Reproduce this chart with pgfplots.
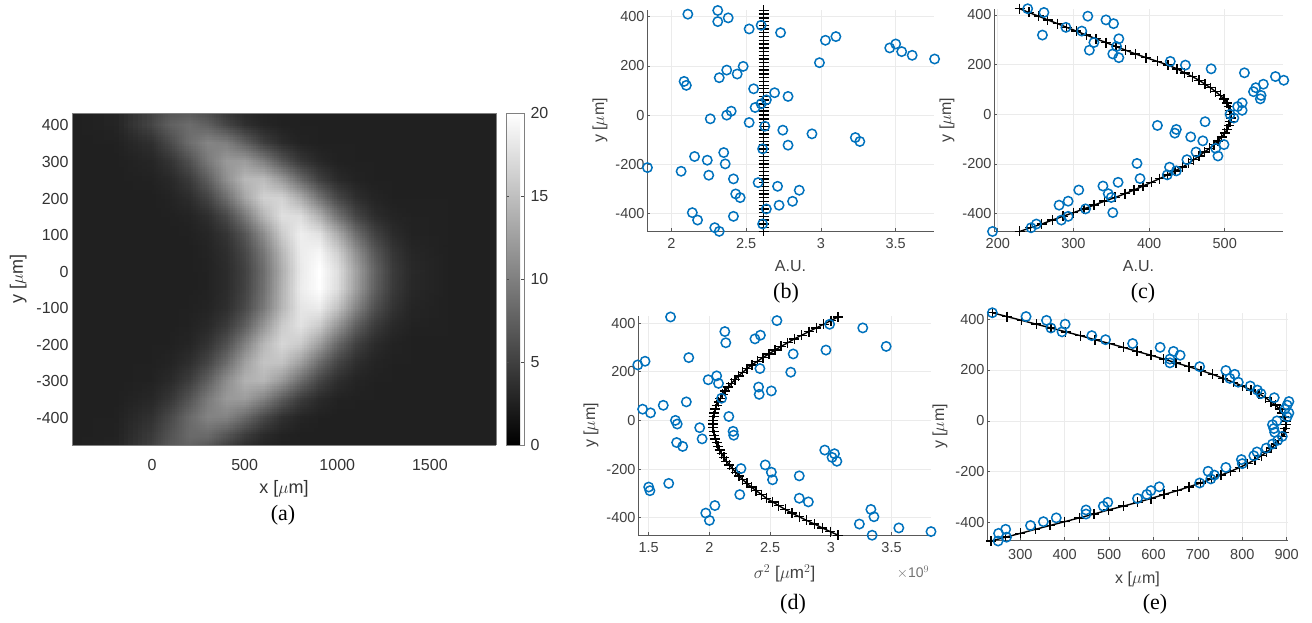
\documentclass[border=0pt]{standalone}
\usepackage{fontspec}
\setmainfont{Liberation Sans}
\newfontfamily\capfont{Liberation Serif}
\usepackage{pgfplots}
\usepackage{pgfplotstable}
\usepgfplotslibrary{patchplots}
\pgfplotsset{compat=1.18}
\definecolor{mblue}{rgb}{0,0.447,0.741}
\definecolor{mtext}{gray}{0.25}
\pgfplotstableread{
y b bf c cf d df e ef
425 2.31 2.617 239.5 229 1.68 3.06 237 237
410 2.11 2.617 261 241 2.556 3.00 313 270
395 2.38 2.617 319 254 2.99 2.94 359 303
380 2.31 2.617 343 266 3.263 2.88 401 336
365 2.60 2.617 353 279 2.127 2.82 369 369
350 2.52 2.617 290 291 2.42 2.76 394 402
335 2.73 2.617 311 304 2.375 2.70 461 435
319 3.10 2.617 259 317 2.135 2.645 492 468
304 3.03 2.617 360 330 3.456 2.59 553 501
289 3.50 2.617 327 343 2.96 2.54 615 532
273 3.46 2.617 357 356 2.69 2.49 645 563
258 3.54 2.617 321 369 1.83 2.44 660 594
243 3.61 2.617 352 382 1.47 2.395 637 623
228 3.76 2.617 360 396 1.41 2.35 637 651
213 2.99 2.617 428 411 2.416 2.31 704 680
198 2.48 2.617 448 425 2.67 2.275 763 707
183 2.37 2.617 482 437 2.06 2.24 783 733
167 2.44 2.617 526 447 1.99 2.21 772 757
152 2.32 2.617 567 457 2.075 2.18 791 780
137 2.085 2.617 578 466 2.405 2.155 818 800
121 2.10 2.617 551 474 2.51 2.13 834 820
107 2.55 2.617 541 481 2.41 2.11 842 838
91 2.69 2.617 538 488 2.10 2.09 872 852
76 2.78 2.617 548 494 1.81 2.075 905 865
62 2.635 2.617 547 499 1.62 2.06 901 875
46 2.60 2.617 523 503 1.45 2.05 896 884
31 2.56 2.617 517 505 1.515 2.04 905 890
16 2.40 2.617 523 507 2.16 2.035 901 895
0 2.37 2.617 507 508 1.72 2.03 878 898
-15 2.26 2.617 512 508 1.735 2.03 868 899
-30 2.52 2.617 474 507 1.92 2.03 871 897
-45 2.625 2.617 411 505 2.195 2.035 873 894
-61 2.745 2.617 436 503 2.20 2.04 890 889
-76 2.94 2.617 434 500 1.94 2.05 880 882
-91 3.23 2.617 455 496 1.73 2.06 868 875
-107 3.26 2.617 471 491 1.78 2.07 854 866
-122 2.78 2.617 499 486 2.95 2.085 833 855
-137 2.61 2.617 488 480 3.03 2.10 826 843
-152 2.35 2.617 462 473 3.01 2.12 798 829
-168 2.155 2.617 491 466 3.05 2.14 800 812
-183 2.24 2.617 450 459 2.46 2.165 763 794
-198 2.36 2.617 384 452 2.26 2.19 723 774
-213 1.84 2.617 427 444 2.51 2.215 737 752
-228 2.065 2.617 436 434 2.74 2.245 729 730
-244 2.25 2.617 424 424 2.52 2.275 704 706
-259 2.415 2.617 388 414 1.665 2.31 613 680
-274 2.58 2.617 359 403 1.50 2.345 594 654
-289 2.71 2.617 339 392 1.51 2.385 585 624
-305 2.855 2.617 307 380 2.25 2.43 564 594
-320 2.43 2.617 346 368 2.74 2.47 497 564
-335 2.46 2.617 350 355 2.815 2.52 487 532
-350 2.81 2.617 293 341 2.045 2.57 448 498
-366 2.72 2.617 281 327 3.33 2.625 448 466
-381 2.635 2.617 316 314 1.97 2.68 381 433
-396 2.14 2.617 352 300 3.355 2.74 352 400
-411 2.415 2.617 293 286 2.0 2.80 323 367
-426 2.175 2.617 284 272 3.235 2.865 267 334
-442 2.61 2.617 251 258 3.56 2.93 251 300
-457 2.29 2.617 244 243 3.825 2.995 269 267
-472 2.32 2.617 193 229 3.34 3.06 250 234
}\ptable
\pgfplotsset{
 small/.style={
  scale only axis, clip=false,
  axis x line*=bottom, axis y line*=left,
  axis line style={draw=black!65,line width=0.8pt},
  tick style={draw=black!65,line width=0.6pt},
  tick align=inside, major tick length=3pt,
  grid=major, grid style={draw=black!8,line width=0.6pt},
  ticklabel style={font=\fontsize{14.5}{16}\selectfont,text=mtext},
  label style={font=\fontsize{16}{18}\selectfont,text=mtext},
  ytick={-400,-200,0,200,400},
  yticklabel style={xshift=1pt},
  xticklabel style={yshift=-4pt},
  xlabel style={yshift=-5pt},
  every axis y label/.style={at={(ticklabel cs:0.5)},rotate=90,anchor=south,font=\fontsize{16}{18}\selectfont,text=mtext,yshift=1pt},
  /pgf/number format/assume math mode=true,
  /pgf/number format/fixed,
  yticklabel={\pgfmathprintnumber[/pgf/number format/1000 sep=]{\tick}},
  scaled x ticks=false,
  xticklabel={\pgfmathprintnumber[/pgf/number format/1000 sep=]{\tick}},
 },
 circ/.style={only marks,mark=o,mark size=4.7pt,mark options={draw=mblue,line width=1.5pt,fill=none}},
 fit/.style={black,line width=1.4pt,mark=+,mark size=5pt,mark options={black,line width=1.4pt}},
}
\begin{document}
\begin{tikzpicture}[x=1pt,y=1pt]
\useasboundingbox (0,0) rectangle (1312,623);
% panel a
\begin{axis}[at={(72pt,178pt)},anchor=south west,scale only axis,width=424pt,height=332pt,
 view={0}{90},xmin=-432,xmax=1857,ymin=-474,ymax=434,
 xtick={0,500,1000,1500},ytick={-400,-300,...,400},
 tick style={draw=none},axis line style={draw=black!50,line width=0.6pt},
 ticklabel style={font=\fontsize{16}{18}\selectfont,text=black!80},
 label style={font=\fontsize{18}{20}\selectfont,text=black!80},
 /pgf/number format/assume math mode=true,
 xticklabel={\pgfmathprintnumber[/pgf/number format/1000 sep=]{\tick}},
 yticklabel={\pgfmathprintnumber[/pgf/number format/1000 sep=]{\tick}},
 xlabel={x [$\mu$m]},ylabel={y [$\mu$m]},
 xticklabel style={yshift=-11pt},
 xlabel style={yshift=-3pt},
 ylabel style={yshift=3pt},
 colormap={bw}{gray(0cm)=(0);gray(1cm)=(1)},
 point meta min=0,point meta max=20,
 colorbar,
 colorbar style={at={(1.0236,1)},anchor=north west,width=18pt,
  ytick={0,5,10,15,20},
  /pgf/number format/assume math mode=true,
  yticklabel={\pgfmathprintnumber{\tick}},
  yticklabel style={font=\fontsize{16}{18}\selectfont,text=black!80,xshift=3pt},
  tick style={draw=black!70},major tick length=3pt,tick align=inside,
  axis line style={draw=black!50,line width=0.6pt},
  yticklabel pos=right}]
\addplot3[surf,shader=interp,patch type=bilinear,mesh/cols=19] coordinates {
(-432,434,2.5)(-200,434,2.9)(0,434,5.3)(100,434,6.7)(200,434,7.0)(300,434,5.9)(400,434,4.3)(500,434,3.2)(600,434,2.7)(700,434,2.5)(800,434,2.5)(900,434,2.5)(1000,434,2.5)(1100,434,2.5)(1200,434,2.5)(1300,434,2.5)(1400,434,2.5)(1600,434,2.5)(1857,434,2.5)
(-432,400,2.5)(-200,400,2.9)(0,400,5.6)(100,400,7.6)(200,400,8.5)(300,400,7.5)(400,400,5.4)(500,400,3.7)(600,400,2.9)(700,400,2.6)(800,400,2.5)(900,400,2.5)(1000,400,2.5)(1100,400,2.5)(1200,400,2.5)(1300,400,2.5)(1400,400,2.5)(1600,400,2.5)(1857,400,2.5)
(-432,350,2.5)(-200,350,2.6)(0,350,3.8)(100,350,5.9)(200,350,8.6)(300,350,10.4)(400,350,9.9)(500,350,7.5)(600,350,4.9)(700,350,3.4)(800,350,2.7)(900,350,2.5)(1000,350,2.5)(1100,350,2.5)(1200,350,2.5)(1300,350,2.5)(1400,350,2.5)(1600,350,2.5)(1857,350,2.5)
(-432,300,2.5)(-200,300,2.5)(0,300,3.0)(100,300,4.1)(200,300,6.3)(300,300,9.5)(400,300,12.0)(500,300,12.2)(600,300,9.9)(700,300,6.7)(800,300,4.3)(900,300,3.1)(1000,300,2.6)(1100,300,2.5)(1200,300,2.5)(1300,300,2.5)(1400,300,2.5)(1600,300,2.5)(1857,300,2.5)
(-432,250,2.5)(-200,250,2.5)(0,250,2.7)(100,250,3.2)(200,250,4.6)(300,250,7.4)(400,250,11.3)(500,250,14.4)(600,250,14.7)(700,250,12.0)(800,250,8.2)(900,250,5.0)(1000,250,3.3)(1100,250,2.7)(1200,250,2.5)(1300,250,2.5)(1400,250,2.5)(1600,250,2.5)(1857,250,2.5)
(-432,200,2.5)(-200,200,2.5)(0,200,2.5)(100,200,2.8)(200,200,3.5)(300,200,5.3)(400,200,8.7)(500,200,13.0)(600,200,16.4)(700,200,16.5)(800,200,13.4)(900,200,9.0)(1000,200,5.5)(1100,200,3.6)(1200,200,2.8)(1300,200,2.5)(1400,200,2.5)(1600,200,2.5)(1857,200,2.5)
(-432,150,2.5)(-200,150,2.5)(0,150,2.5)(100,150,2.6)(200,150,2.8)(300,150,3.6)(400,150,5.7)(500,150,9.5)(600,150,14.2)(700,150,17.5)(800,150,17.3)(900,150,13.8)(1000,150,9.0)(1100,150,5.4)(1200,150,3.5)(1300,150,2.8)(1400,150,2.6)(1600,150,2.5)(1857,150,2.5)
(-432,100,2.5)(-200,100,2.5)(0,100,2.5)(100,100,2.5)(200,100,2.6)(300,100,3.0)(400,100,4.1)(500,100,6.7)(600,100,11.0)(700,100,15.9)(800,100,18.7)(900,100,17.7)(1000,100,13.5)(1100,100,8.6)(1200,100,5.2)(1300,100,3.4)(1400,100,2.7)(1600,100,2.5)(1857,100,2.5)
(-432,50,2.5)(-200,50,2.5)(0,50,2.5)(100,50,2.5)(200,50,2.5)(300,50,2.8)(400,50,3.6)(500,50,5.6)(600,50,9.3)(700,50,14.3)(800,50,18.5)(900,50,19.3)(1000,50,16.3)(1100,50,11.3)(1200,50,6.9)(1300,50,4.2)(1400,50,3.0)(1600,50,2.5)(1857,50,2.5)
(-432,0,2.5)(-200,0,2.5)(0,0,2.5)(100,0,2.5)(200,0,2.5)(300,0,2.7)(400,0,3.4)(500,0,5.1)(600,0,8.6)(700,0,13.6)(800,0,18.3)(900,0,20.0)(1000,0,17.5)(1100,0,12.6)(1200,0,7.8)(1300,0,4.6)(1400,0,3.2)(1600,0,2.5)(1857,0,2.5)
(-432,-50,2.5)(-200,-50,2.5)(0,-50,2.5)(100,-50,2.5)(200,-50,2.5)(300,-50,2.7)(400,-50,3.4)(500,-50,5.2)(600,-50,8.8)(700,-50,13.9)(800,-50,18.5)(900,-50,19.9)(1000,-50,17.3)(1100,-50,12.3)(1200,-50,7.5)(1300,-50,4.5)(1400,-50,3.1)(1600,-50,2.5)(1857,-50,2.5)
(-432,-100,2.5)(-200,-100,2.5)(0,-100,2.5)(100,-100,2.5)(200,-100,2.6)(300,-100,2.8)(400,-100,3.6)(500,-100,5.7)(600,-100,9.4)(700,-100,14.2)(800,-100,18.0)(900,-100,18.5)(1000,-100,15.3)(1100,-100,10.4)(1200,-100,6.3)(1300,-100,4.0)(1400,-100,2.9)(1600,-100,2.5)(1857,-100,2.5)
(-432,-150,2.5)(-200,-150,2.5)(0,-150,2.5)(100,-150,2.5)(200,-150,2.7)(300,-150,3.2)(400,-150,4.6)(500,-150,7.4)(600,-150,11.7)(700,-150,15.9)(800,-150,17.7)(900,-150,15.9)(1000,-150,11.7)(1100,-150,7.4)(1200,-150,4.6)(1300,-150,3.2)(1400,-150,2.7)(1600,-150,2.5)(1857,-150,2.5)
(-432,-200,2.5)(-200,-200,2.5)(0,-200,2.5)(100,-200,2.6)(200,-200,2.9)(300,-200,4.0)(400,-200,6.3)(500,-200,10.1)(600,-200,14.3)(700,-200,16.8)(800,-200,15.9)(900,-200,12.4)(1000,-200,8.1)(1100,-200,5.0)(1200,-200,3.4)(1300,-200,2.7)(1400,-200,2.5)(1600,-200,2.5)(1857,-200,2.5)
(-432,-250,2.5)(-200,-250,2.5)(0,-250,2.6)(100,-250,2.8)(200,-250,3.6)(300,-250,5.4)(400,-250,8.5)(500,-250,12.5)(600,-250,15.3)(700,-250,15.3)(800,-250,12.5)(900,-250,8.5)(1000,-250,5.4)(1100,-250,3.6)(1200,-250,2.8)(1300,-250,2.6)(1400,-250,2.5)(1600,-250,2.5)(1857,-250,2.5)
(-432,-300,2.5)(-200,-300,2.5)(0,-300,2.7)(100,-300,3.3)(200,-300,4.8)(300,-300,7.5)(400,-300,11.1)(500,-300,13.9)(600,-300,14.3)(700,-300,12.0)(800,-300,8.5)(900,-300,5.4)(1000,-300,3.6)(1100,-300,2.8)(1200,-300,2.6)(1300,-300,2.5)(1400,-300,2.5)(1600,-300,2.5)(1857,-300,2.5)
(-432,-350,2.5)(-200,-350,2.5)(0,-350,3.1)(100,-350,4.3)(200,-350,6.6)(300,-350,9.6)(400,-350,12.0)(500,-350,12.3)(600,-350,10.2)(700,-350,7.2)(800,-350,4.7)(900,-350,3.3)(1000,-350,2.7)(1100,-350,2.6)(1200,-350,2.5)(1300,-350,2.5)(1400,-350,2.5)(1600,-350,2.5)(1857,-350,2.5)
(-432,-400,2.5)(-200,-400,2.6)(0,-400,3.9)(100,-400,5.8)(200,-400,8.3)(300,-400,10.3)(400,-400,10.3)(500,-400,8.3)(600,-400,5.7)(700,-400,3.8)(800,-400,2.9)(900,-400,2.6)(1000,-400,2.5)(1100,-400,2.5)(1200,-400,2.5)(1300,-400,2.5)(1400,-400,2.5)(1600,-400,2.5)(1857,-400,2.5)
(-432,-450,2.5)(-200,-450,2.7)(0,-450,4.7)(100,-450,6.6)(200,-450,8.3)(300,-450,8.3)(400,-450,6.6)(500,-450,4.7)(600,-450,3.3)(700,-450,2.7)(800,-450,2.5)(900,-450,2.5)(1000,-450,2.5)(1100,-450,2.5)(1200,-450,2.5)(1300,-450,2.5)(1400,-450,2.5)(1600,-450,2.5)(1857,-450,2.5)
(-432,-474,2.5)(-200,-474,2.8)(0,-474,5.1)(100,-474,6.9)(200,-474,7.8)(300,-474,7.0)(400,-474,5.2)(500,-474,3.7)(600,-474,2.9)(700,-474,2.6)(800,-474,2.5)(900,-474,2.5)(1000,-474,2.5)(1100,-474,2.5)(1200,-474,2.5)(1300,-474,2.5)(1400,-474,2.5)(1600,-474,2.5)(1857,-474,2.5)
};
\end{axis}
% panel b
\begin{axis}[small,at={(647pt,392pt)},anchor=south west,width=287pt,height=221pt,
 xmin=1.837,xmax=3.756,ymin=-470.5,ymax=427,xtick={2,2.5,3,3.5},xlabel={A.U.},ylabel={y [$\mu$m]}]
\addplot[fit] table[x=bf,y=y]{\ptable};
\addplot[circ] table[x=b,y=y]{\ptable};
\end{axis}
% panel c
\begin{axis}[small,at={(994pt,392pt)},anchor=south west,width=289pt,height=222pt,
 xmin=195,xmax=577,ymin=-470,ymax=424,xtick={200,300,400,500},xlabel={A.U.},ylabel={y [$\mu$m]}]
\addplot[fit] table[x=cf,y=y]{\ptable};
\addplot[circ] table[x=c,y=y]{\ptable};
\end{axis}
% panel d
\begin{axis}[small,at={(638pt,88pt)},anchor=south west,width=293pt,height=219pt,
 xmin=1.412,xmax=3.825,ymin=-471,ymax=429,xtick={1.5,2,2.5,3,3.5},xlabel={$\sigma^2$ [$\mu$m$^2$]},
 xlabel style={font=\fontsize{17}{19}\selectfont},ylabel={y [$\mu$m]}]
\addplot[fit] table[x=df,y=y]{\ptable};
\addplot[circ] table[x=d,y=y]{\ptable};
\end{axis}
% panel e
\begin{axis}[small,at={(987pt,83pt)},anchor=south west,width=301pt,height=227pt,
 xmin=225,xmax=903,ymin=-468,ymax=424,xtick={300,400,...,900},xticklabel style={yshift=-2pt},xlabel={x [$\mu$m]},ylabel={y [$\mu$m]}]
\addplot[fit] table[x=ef,y=y]{\ptable};
\addplot[circ] table[x=e,y=y]{\ptable};
\end{axis}
\node[font=\fontsize{14}{15}\selectfont,text=black!55] at (913,51) {$\times$10$^9$};
\node[font=\capfont\fontsize{22}{24}\selectfont] at (283,108) {(a)};
\node[font=\capfont\fontsize{22}{24}\selectfont] at (786,330) {(b)};
\node[font=\capfont\fontsize{22}{24}\selectfont] at (1143,330) {(c)};
\node[font=\capfont\fontsize{22}{24}\selectfont] at (793,19) {(d)};
\node[font=\capfont\fontsize{22}{24}\selectfont] at (1155,19) {(e)};
\end{tikzpicture}
\end{document}
